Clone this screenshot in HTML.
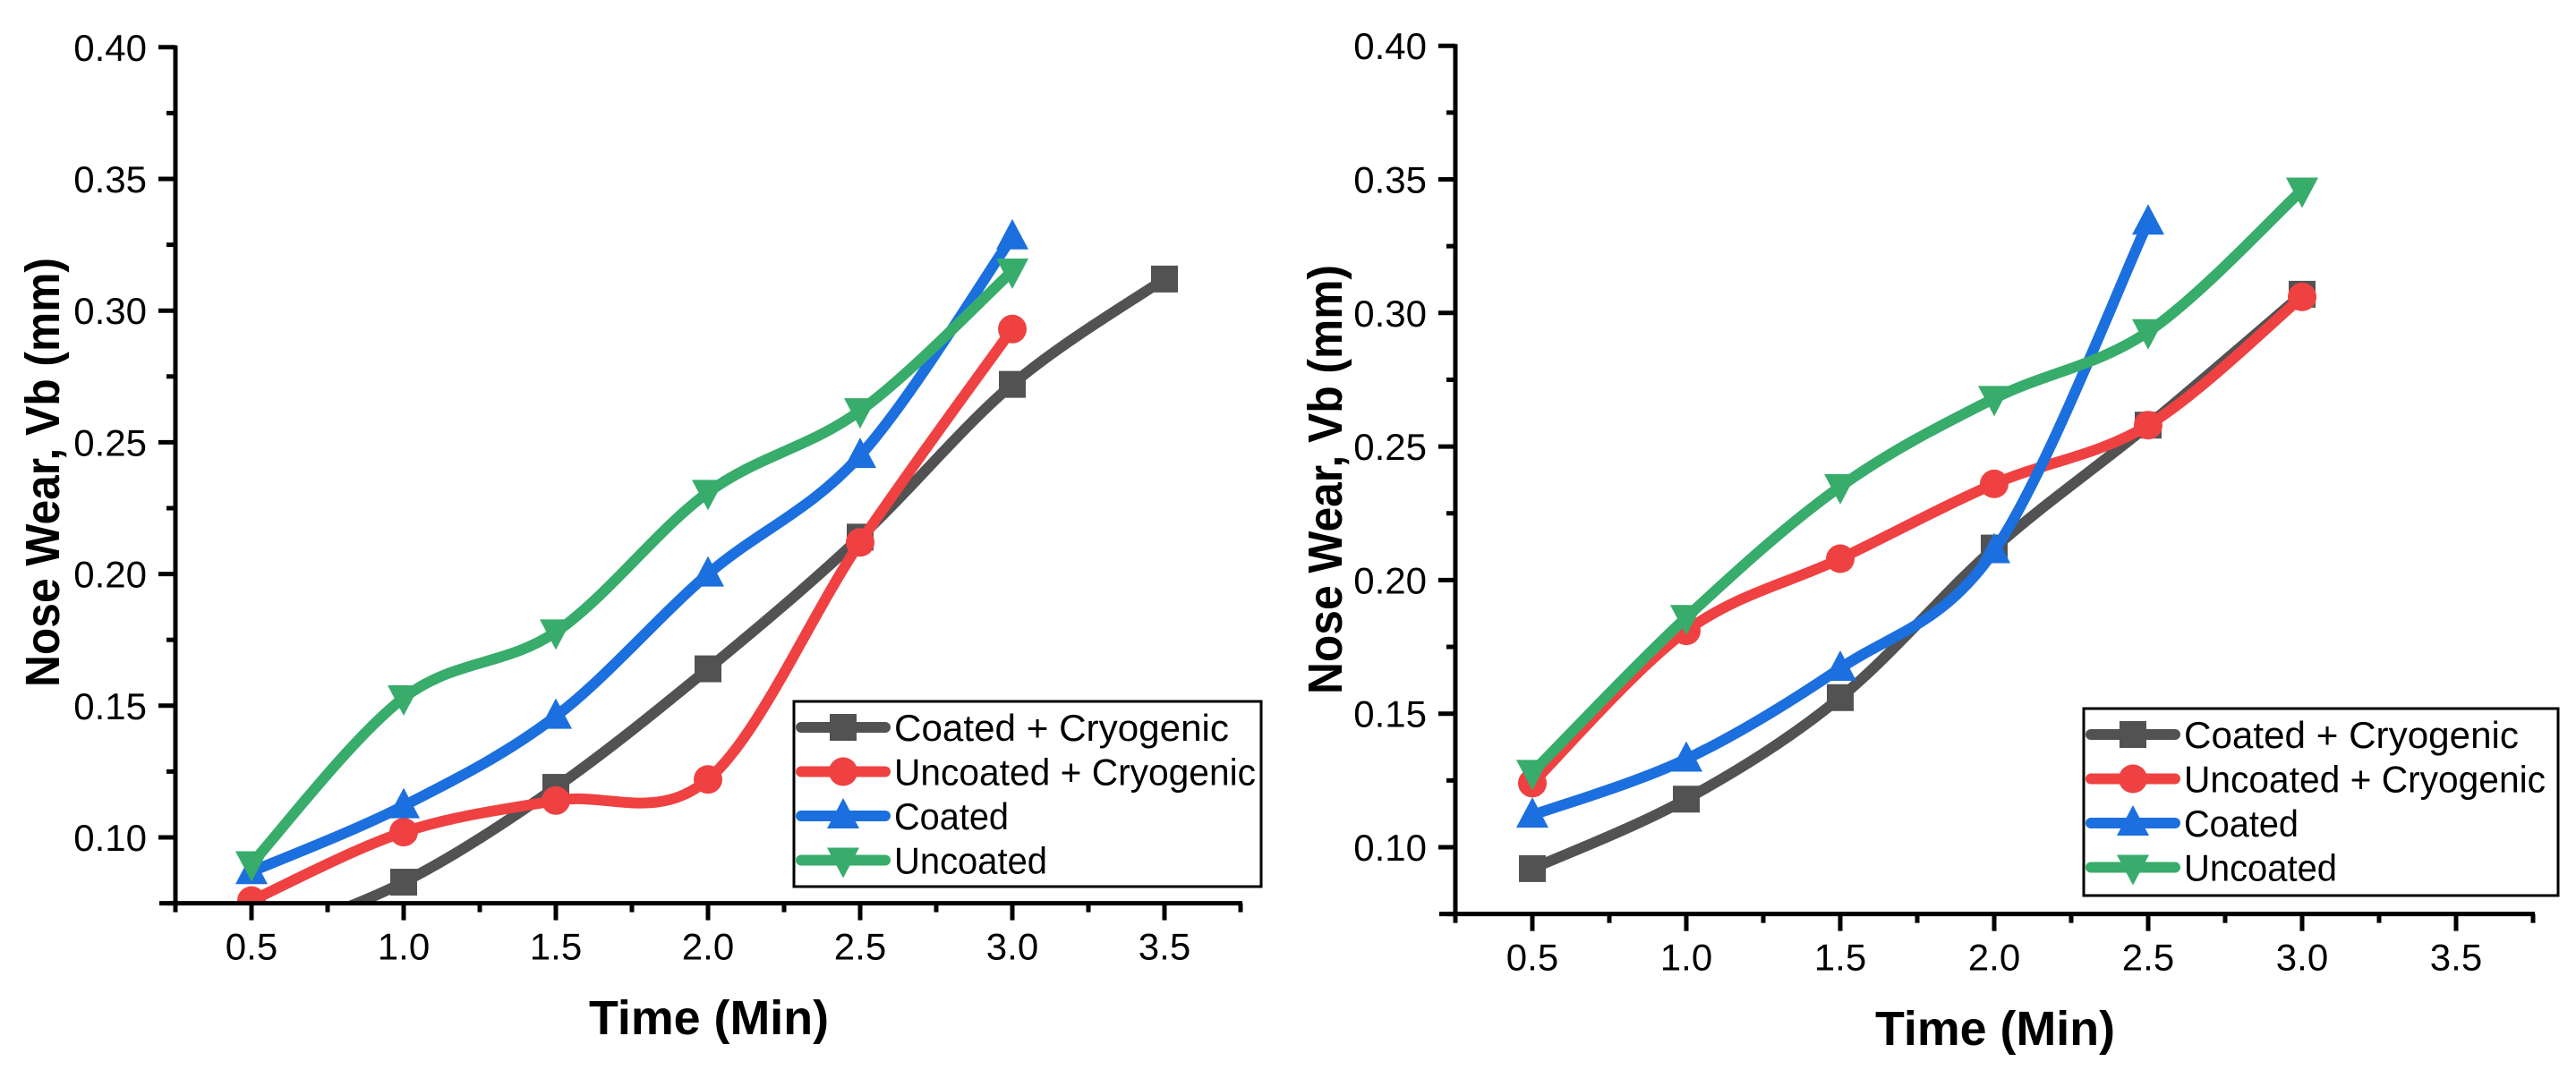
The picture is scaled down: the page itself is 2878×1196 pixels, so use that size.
<!DOCTYPE html>
<html><head><meta charset="utf-8"><style>
html,body{margin:0;padding:0;background:#fff;}
svg{display:block;}
text{font-family:"Liberation Sans",Arial,sans-serif;}
</style></head><body>
<svg id="chart" width="2878" height="1196" viewBox="0 0 2878 1196" xmlns="http://www.w3.org/2000/svg"></svg>
<script>
const xTicks = [0.5, 1.0, 1.5, 2.0, 2.5, 3.0, 3.5];
const xTickLabels = ["0.5","1.0","1.5","2.0","2.5","3.0","3.5"];
const yTicks = [0.10, 0.15, 0.20, 0.25, 0.30, 0.35, 0.40];
const yTickLabels = ["0.10","0.15","0.20","0.25","0.30","0.35","0.40"];
const seriesNames = ["Coated + Cryogenic","Uncoated + Cryogenic","Coated","Uncoated"];
const timesA = [0.5, 1.0, 1.5, 2.0, 2.5, 3.0, 3.5];
const leftCoatedCryo = [0.060, 0.083, 0.119, 0.164, 0.214, 0.272, 0.312];
const leftUncoatedCryo = [0.076, 0.102, 0.114, 0.122, 0.212, 0.293];
const leftCoated = [0.087, 0.112, 0.146, 0.200, 0.245, 0.328];
const leftUncoated = [0.090, 0.153, 0.178, 0.231, 0.262, 0.315];
const rightCoatedCryo = [0.092, 0.118, 0.156, 0.212, 0.258, 0.307];
const rightUncoatedCryo = [0.124, 0.181, 0.208, 0.236, 0.258, 0.306];
const rightCoated = [0.112, 0.133, 0.167, 0.211, 0.334];
const rightUncoated = [0.128, 0.186, 0.235, 0.268, 0.293, 0.346];

const colors = ["#525252","#EF4141","#1B6FDE","#37AC6B"];
const markers = ["square","circle","up","down"];
const NS = "http://www.w3.org/2000/svg";
const svg = document.getElementById("chart");
function el(tag, attrs, parent){const e=document.createElementNS(NS,tag);for(const k in attrs)e.setAttribute(k,attrs[k]);(parent||svg).appendChild(e);return e;}

function drawPanel(cfg){
  const g = el("g",{});
  
  
  const X = v => cfg.x0 + (v - 0.5) / 0.5 * cfg.dx;
  const Y = v => cfg.y10 - (v - 0.10) / 0.05 * cfg.dy;
  const xMin = X(0.25), xMax = X(3.75), yTop = Y(0.40), yBot = Y(0.075);
  const cid = "clip" + cfg.name;
  const cp = el("clipPath",{id:cid},g);
  el("rect",{x:xMin,y:yTop-60,width:xMax-xMin+60,height:yBot-yTop+60},cp);
  const sg = el("g",{"clip-path":"url(#"+cid+")"},g);
  cfg.series.forEach((vals,si)=>{
    const pts = vals.map((v,i)=>[X(timesA[i]),Y(v)]);
    let d = "M"+pts[0][0]+","+pts[0][1];
    for(let i=0;i<pts.length-1;i++){
      const p0=pts[Math.max(0,i-1)],p1=pts[i],p2=pts[i+1],p3=pts[Math.min(pts.length-1,i+2)];
      const c1=[p1[0]+(p2[0]-p0[0])/6,p1[1]+(p2[1]-p0[1])/6];
      const c2=[p2[0]-(p3[0]-p1[0])/6,p2[1]-(p3[1]-p1[1])/6];
      d+=" C"+c1[0]+","+c1[1]+" "+c2[0]+","+c2[1]+" "+p2[0]+","+p2[1];
    }
    const line = el("path",{d:d,fill:"none",stroke:colors[si],"stroke-width":12,"stroke-linecap":"round","stroke-linejoin":"round"},sg);
    
    
    pts.forEach(p=>{
      const m = drawMarker(markers[si],p[0],p[1],colors[si],sg);
      
      
    });
  });
  const ax = el("g",{stroke:"#000","stroke-width":5,fill:"none"},g);
  el("line",{x1:xMin,y1:yTop-2,x2:xMin,y2:yBot+2},ax);
  el("line",{x1:xMin-18,y1:yBot,x2:xMax+2,y2:yBot},ax);
  for(let v=0.075; v<=0.4001; v+=0.025){
    const major = Math.abs(v*20-Math.round(v*20))<0.001;
    const y=Y(v);
    el("line",{x1:xMin-(major?19:10),y1:y,x2:xMin,y2:y},ax);
  }
  for(let v=0.25; v<=3.7501; v+=0.25){
    const major = Math.abs(v*2-Math.round(v*2))<0.001;
    const x=X(v);
    el("line",{x1:x,y1:yBot,x2:x,y2:yBot+(major?19:10)},ax);
  }
  yTicks.forEach((v,i)=>{
    const t=el("text",{x:xMin-32,y:Y(v)+15,"font-size":42,"text-anchor":"end",fill:"#000"},g);
    t.textContent=yTickLabels[i];
    
    
  });
  xTicks.forEach((v,i)=>{
    const t=el("text",{x:X(v),y:yBot+63,"font-size":42,"text-anchor":"middle",fill:"#000"},g);
    t.textContent=xTickLabels[i];
    
    
  });
  const xt=el("text",{x:cfg.xtX,y:cfg.xtY,"font-size":54,"font-weight":"bold","text-anchor":"middle",fill:"#000",textLength:268,lengthAdjust:"spacingAndGlyphs"},g);
  xt.textContent="Time (Min)";
  
  
  const yt=el("text",{x:0,y:0,"font-size":54,"font-weight":"bold","text-anchor":"middle",fill:"#000",textLength:480,lengthAdjust:"spacingAndGlyphs",transform:"translate("+cfg.ytX+","+cfg.ytY+") rotate(-90)"},g);
  yt.textContent="Nose Wear, Vb (mm)";
  
  
  const lg = el("g",{},g);
  
  
  el("rect",{x:cfg.lx,y:cfg.ly,width:cfg.lw,height:cfg.lh,fill:"#fff",stroke:"#000","stroke-width":3},lg);
  const lens=[374,404,128,171];
  seriesNames.forEach((n,i)=>{
    const cy=cfg.ly+29+i*49.5;
    const e=el("g",{},lg);
    
    
    el("line",{x1:cfg.lx+8,y1:cy,x2:cfg.lx+102,y2:cy,stroke:colors[i],"stroke-width":12,"stroke-linecap":"round"},e);
    drawMarker(markers[i],cfg.lx+55,cy,colors[i],e);
    const t=el("text",{x:cfg.lx+112,y:cy+15,"font-size":42,fill:"#000",textLength:lens[i],lengthAdjust:"spacingAndGlyphs"},e);
    t.textContent=n;
  });
}
function drawMarker(type,x,y,c,parent){
  const s=15;
  if(type==="square") return el("rect",{x:x-s,y:y-s,width:2*s,height:2*s,fill:c},parent);
  if(type==="circle") return el("circle",{cx:x,cy:y,r:16,fill:c},parent);
  if(type==="up") return el("polygon",{points:(x)+","+(y-20)+" "+(x+18)+","+(y+14)+" "+(x-18)+","+(y+14),fill:c},parent);
  return el("polygon",{points:(x)+","+(y+20)+" "+(x+18)+","+(y-14)+" "+(x-18)+","+(y-14),fill:c},parent);
}
drawPanel({name:"left-chart",x0:281,dx:170,y10:936,dy:147.2,
  series:[leftCoatedCryo,leftUncoatedCryo,leftCoated,leftUncoated],
  xtX:792,xtY:1156,ytX:66,ytY:528,lx:887,ly:784,lw:522,lh:207});
drawPanel({name:"right-chart",x0:1712,dx:172,y10:947,dy:149.3,
  series:[rightCoatedCryo,rightUncoatedCryo,rightCoated,rightUncoated],
  xtX:2229,xtY:1168,ytX:1499,ytY:536,lx:2328,ly:792,lw:530,lh:209});
</script>
</body></html>
